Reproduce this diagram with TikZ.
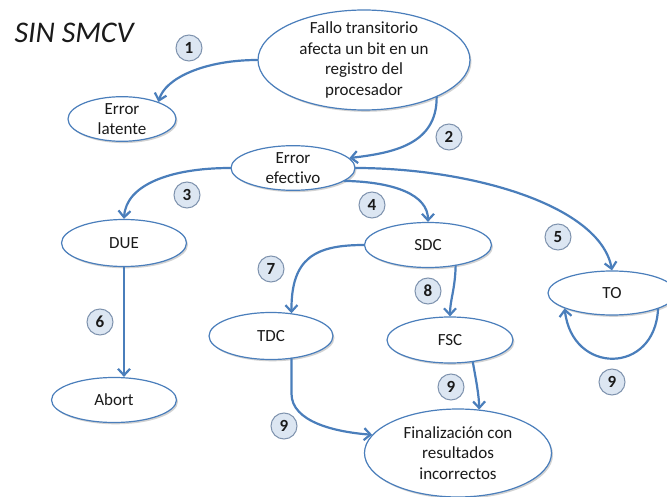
\documentclass[tikz,border=0pt]{standalone}
\usepackage{fontspec}
\setmainfont{Carlito}[Ligatures=NoCommon]
\usetikzlibrary{shapes.geometric,arrows.meta,shadows}
\definecolor{lineblue}{HTML}{4A7EBB}
\definecolor{numfill}{HTML}{DCE6F2}
\definecolor{numdraw}{HTML}{7F93AE}
\definecolor{inktext}{HTML}{1A1A1A}
\begin{document}
\begin{tikzpicture}[x=1pt,y=-1pt,
  state/.style={ellipse, draw=lineblue, line width=1.2pt, fill=white, inner sep=0pt,
    align=center, text=inktext, font=\fontsize{17}{20.5}\selectfont,
    drop shadow={shadow xshift=1.5pt,shadow yshift=-1.8pt,opacity=0.25,fill=black!70}},
  statetext/.style={align=center, text=inktext, inner sep=0pt, font=\fontsize{17}{20.5}\selectfont},
  num/.style={circle, draw=numdraw, line width=1pt, fill=numfill, minimum size=26pt,
    inner sep=0pt, text=inktext, font=\fontsize{17}{17}\selectfont\bfseries},
  flow/.style={draw=lineblue, line width=2.2pt, line cap=round,
    -{Straight Barb[length=6.5pt,width=12pt]}}
]
\useasboundingbox (0,0) rectangle (667,497);
\fill[white] (0,0) rectangle (667,497);

% title
\node[anchor=west, text=inktext, font=\fontsize{30}{32}\selectfont\itshape] (title) at (11,33) {SIN SMCV};

% states
\node[state, minimum width=212pt, minimum height=100pt] (fallo) at (364,60) {};
\node[statetext] (fallotxt) at (fallo.center) {Fallo transitorio\\afecta un bit en un\\registro del\\procesador};
\node[state, minimum width=108pt, minimum height=42pt] (latente) at (122,119) {Error\\latente};
\node[state, minimum width=124pt, minimum height=42pt] (efectivo) at (293,168) {Error\\efectivo};
\node[state, minimum width=125pt, minimum height=47pt] (due) at (124,243) {DUE};
\node[state, minimum width=125pt, minimum height=45pt] (abort) at (114,400) {Abort};
\node[state, minimum width=124pt, minimum height=47pt] (tdc) at (271,336) {TDC};
\node[state, minimum width=127pt, minimum height=45pt] (sdc) at (428,245) {SDC};
\node[state, minimum width=126pt, minimum height=46pt] (fsc) at (450,340) {FSC};
\node[state, minimum width=128pt, minimum height=44pt] (to) at (612,293) {TO};
\node[state, minimum width=187pt, minimum height=88pt] (final) at (458,453) {Finalización con\\resultados\\incorrectos};

% transitions
\draw[flow] (fallo.west) .. controls (205,60) and (165,78) .. (latente.25);
\draw[flow] (fallo.-27) .. controls (437,145) and (392,153) .. (efectivo.10);
\draw[flow] (efectivo.west) .. controls (170,168) and (126,185) .. (due.north);
\draw[flow] (efectivo.-14) .. controls (395,182) and (428,195) .. (sdc.north);
\draw[flow] (efectivo.east) .. controls (470,168) and (600,205) .. (to.north);
\draw[flow] (due.south) -- (abort.north -| due.south);
\draw[flow] (sdc.west) .. controls (315,245) and (291,258) .. (tdc.48);
\draw[flow] (sdc.-37) .. controls (455,290) and (450,300) .. (fsc.north);
\draw[flow] (fsc.-44) .. controls (476,380) and (479,395) .. (final.64);
\draw[flow] (tdc.-48) -- ++(0,35) .. controls +(0,28) and (335,432) .. (final.168);
\draw[flow] (to.-19) .. controls (655,375) and (572,375) .. (to.198);

% step numbers
\node[num] (n1) at (189,48) {1};
\node[num] (n2) at (449,137) {2};
\node[num] (n3) at (187,195) {3};
\node[num] (n4) at (372,205) {4};
\node[num] (n5) at (558,237) {5};
\node[num] (n6) at (100,322) {6};
\node[num] (n7) at (271,269) {7};
\node[num] (n8) at (428,291) {8};
\node[num] (n9a) at (451,387) {9};
\node[num] (n9b) at (612,382) {9};
\node[num] (n9c) at (284,426) {9};
\end{tikzpicture}
\end{document}
